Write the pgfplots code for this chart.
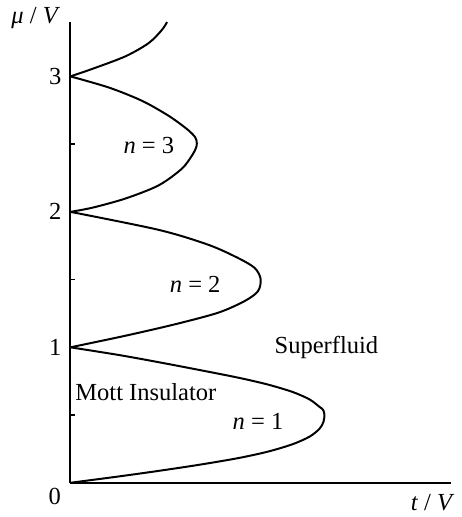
\documentclass[border=0pt]{standalone}
\usepackage{fontspec}
\setmainfont{Liberation Serif}
\usepackage{pgfplots}
\pgfplotsset{compat=1.18}

\begin{document}
\begin{tikzpicture}
\begin{axis}[
  x=68.25bp, y=68.25bp,
  xmin=0, xmax=2.813, ymin=0, ymax=3.405,
  axis lines=left,
  axis line style={-, line width=1bp},
  clip=false,
  font=\rmfamily\fontsize{12.4}{14}\selectfont,
  xtick=\empty,
  ytick={1,2,3},
  yticklabels={1,2,3},
  major tick length=0pt,
  minor ytick={0.5,1.5,2.5},
  minor tick length=2.5bp,
  tick align=inside,
  tick style={line width=0.8bp, black},
  yticklabel style={xshift=-1bp},
  no markers,
  every axis plot post/.append style={black, line width=1bp, smooth, tension=0.5},
]
% n = 1 lobe
\addplot coordinates {
  (0,0) (0.359,0.047) (0.652,0.088) (0.945,0.132) (1.238,0.182)
  (1.458,0.230) (1.641,0.285) (1.766,0.341) (1.839,0.399) (1.868,0.450)
  (1.875,0.504) (1.864,0.540) (1.839,0.560) (1.766,0.615) (1.641,0.670)
  (1.458,0.725) (1.238,0.776) (0.945,0.834) (0.652,0.890) (0.359,0.943) (0,1.0)
};
% n = 2 lobe
\addplot coordinates {
  (0,1) (0.408,1.086) (0.776,1.171) (1.092,1.256) (1.287,1.342)
  (1.385,1.415) (1.404,1.505) (1.360,1.586) (1.238,1.659) (1.018,1.757)
  (0.652,1.867) (0,2)
};
% n = 3 lobe
\addplot coordinates {
  (0,2) (0.163,2.031) (0.408,2.099) (0.652,2.196) (0.823,2.319)
  (0.900,2.420) (0.926,2.470) (0.933,2.505) (0.921,2.551) (0.859,2.612)
  (0.725,2.709) (0.530,2.819) (0.286,2.917) (0,3)
};
% start of the n = 4 lobe
\addplot coordinates {
  (0,3) (0.163,3.056) (0.408,3.149) (0.579,3.247) (0.676,3.344) (0.713,3.401)
};

\node at (axis cs:-0.115,-0.099) {0};
\node at (axis cs:-0.256,3.432) {\textit{μ} / \textit{V}};
\node at (axis cs:2.674,-0.143) {\textit{t} / \textit{V}};
\node at (axis cs:0.557,0.670) {Mott Insulator};
\node at (axis cs:1.890,1.000) {Superfluid};
\node at (axis cs:1.385,0.450) {\textit{n} = 1};
\node at (axis cs:0.921,1.464) {\textit{n} = 2};
\node at (axis cs:0.579,2.490) {\textit{n} = 3};

% page extent
\path (axis cs:-0.520,-0.223) rectangle (axis cs:2.821,3.564);
\end{axis}
\end{tikzpicture}
\end{document}
